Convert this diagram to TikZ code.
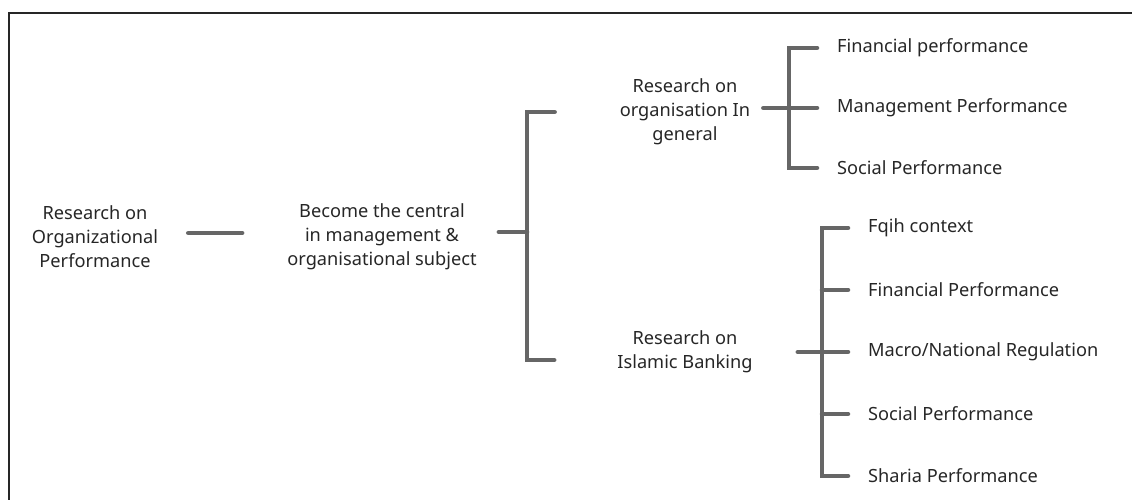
\documentclass[tikz,border=0pt]{standalone}
\usepackage{fontspec}
\setmainfont{Noto Sans}

\begin{document}
\begin{tikzpicture}[x = 1pt, y = -1pt, every node/.style = {inner sep = 0pt, text = black!85, align = center, font = \fontsize{18.2}{24}\selectfont}, link/.style = {draw = black!60, line width = 4.5pt, line cap = round}, leaf/.style = {anchor = west, align = left}]
            \useasboundingbox (0,0) rectangle (1132,500);
            \draw[line width = 2pt, black!85] (8.5,500) -- (8.5,13) -- (1132,13);

            \node (root) at (95,237) {Research on\\Organizational\\Performance};
            \node (mid) at (382,237) {Become the central\\in management \&\\organisational subject};
            \node (gen) at (685,112) {Research on\\organisation In\\general};
            \node (isl) at (685,352) {Research on\\Islamic Banking};

            % general leaves
            \node[leaf] (fin) at (837,48) {Financial performance};
            \node[leaf] (man) at (837,108) {Management Performance};
            \node[leaf] (soc) at (837,168) {Social Performance};

            % islamic banking leaves
            \foreach \name/\y/\txt in {fqi/228/Fqih context, fpi/290/Financial Performance, mac/352/{Macro/National Regulation}, spi/414/Social Performance, sha/476/Sharia Performance}
                \node[leaf] (\name) at (868,\y) {\txt};

            \coordinate (b1) at (527,232);
            \coordinate (b2) at (789,108);
            \coordinate (b3) at (822,352);

            \draw[link] ([xshift = 30, yshift = 4]root.east) -- ([xshift = -45, yshift = 4]mid.west);

            \draw[link] (b1 -| mid.east) ++(22,0) -- (b1);
            \draw[link] ([xshift = -65]gen.west) -| (b1) |- ([xshift = -63, yshift = -8]isl.west);

            \draw[link] (b2 -| gen.east) ++(13,0) -- ([xshift = -20]man.west);
            \draw[link] ([xshift = -20]fin.west) -| (b2) |- ([xshift = -20]soc.west);

            \draw[link] (b3 -| isl.east) ++(45,0) -- ([xshift = -20]mac.west);
            \draw[link] ([xshift = -20]fqi.west) -| (b3) |- ([xshift = -20]sha.west);
            \draw[link] (b3 |- fpi.west) -- ([xshift = -20]fpi.west);
            \draw[link] (b3 |- spi.west) -- ([xshift = -20]spi.west);
        \end{tikzpicture}
\end{document}
